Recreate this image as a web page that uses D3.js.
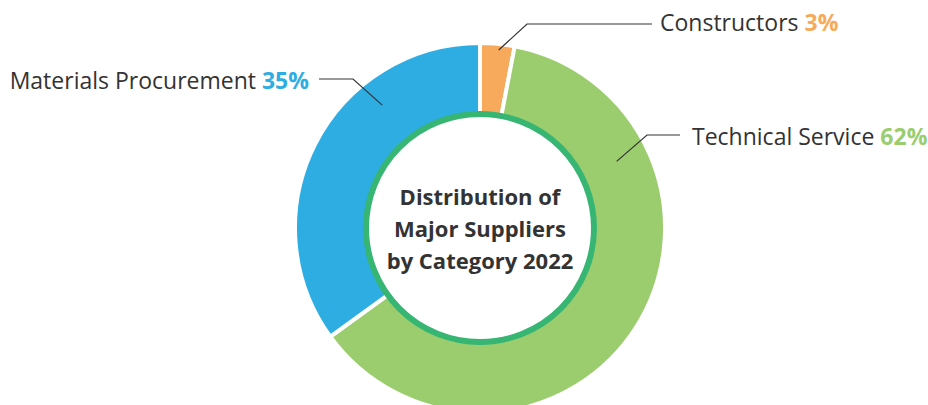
<!DOCTYPE html>
<html>
<head>
<meta charset="utf-8">
<script src="https://cdn.jsdelivr.net/npm/d3@7"></script>
<style>
  body { margin: 0; background: #fff; }
  svg { display: block; }
  text { font-family: "Open Sans", sans-serif; }
</style>
</head>
<body>
<svg id="chart"></svg>
<script>
// data
var categories = ["Constructors", "Technical Service", "Materials Procurement"];
var shares = [3, 62, 35];
var colors = ["#f7aa5b", "#9bcd6f", "#2eade3"];
var titleLines = ["Distribution of", "Major Suppliers", "by Category 2022"];

var width = 928, height = 405;
var cx = 480, cy = 228;
var outerR = 185, innerR = 112;

// label placement (angle in degrees from top, clockwise)
var labelLayout = [
  {angle: 6, r: 179, elbow: [527, 24], end: 652, tx: 660, ty: 31, anchor: "start"},
  {angle: 64, r: 152, elbow: [647, 135], end: 680, tx: 692, ty: 145, anchor: "start"},
  {angle: 321.5, r: 157, elbow: [353, 79], end: 319, tx: 309, ty: 89, anchor: "end"}
];

var svg = d3.select("#chart")
    .attr("width", width)
    .attr("height", height);

var g = svg.append("g")
    .attr("transform", "translate(" + cx + "," + cy + ")");

var pie = d3.pie().sort(null).value(function(d) { return d; });
var arc = d3.arc().innerRadius(innerR).outerRadius(outerR);

var arcs = pie(shares);

g.selectAll("path.slice")
  .data(arcs)
  .enter()
  .append("path")
    .attr("class", "slice")
    .attr("d", arc)
    .attr("fill", function(d, i) { return colors[i]; })
    .attr("stroke", "#fff")
    .attr("stroke-width", 4);

// inner circle
g.append("circle")
    .attr("r", 114)
    .attr("fill", "#fff")
    .attr("stroke", "#37b673")
    .attr("stroke-width", 6);

// title
g.append("text")
    .attr("text-anchor", "middle")
    .attr("font-weight", "bold")
    .attr("font-size", 22)
    .attr("fill", "#333")
  .selectAll("tspan")
  .data(titleLines)
  .enter()
  .append("tspan")
    .attr("x", 0)
    .attr("y", function(d, i) { return -23 + i * 32; })
    .text(function(d) { return d; });

// leader lines + labels
var labels = svg.append("g");

labelLayout.forEach(function(l, i) {
  var p = d3.pointRadial(l.angle * Math.PI / 180, l.r);
  labels.append("polyline")
      .attr("points", [[cx + p[0], cy + p[1]], l.elbow, [l.end, l.elbow[1]]].map(function(q) { return q.join(","); }).join(" "))
      .attr("fill", "none")
      .attr("stroke", "#333")
      .attr("stroke-width", 1.2);

  var t = labels.append("text")
      .attr("x", l.tx)
      .attr("y", l.ty)
      .attr("text-anchor", l.anchor)
      .attr("font-size", 23)
      .attr("fill", "#333");
  t.append("tspan").text(categories[i] + " ");
  t.append("tspan")
      .attr("font-weight", "bold")
      .attr("fill", colors[i])
      .text(shares[i] + "%");
});
</script>
</body>
</html>
